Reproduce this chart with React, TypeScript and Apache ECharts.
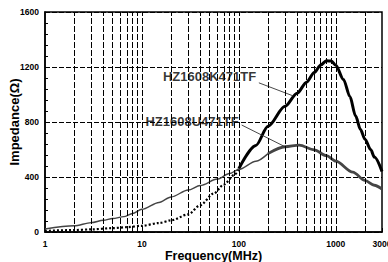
import React, { useEffect, useRef } from "react";
import * as echarts from "echarts";

// Frequencies (MHz) and impedance (Ω)
const kLowFreq = [1, 2, 3, 5, 7, 10, 15, 20, 30, 40, 55, 70, 90, 100];
const kLowVal = [8, 14, 19, 28, 35, 45, 65, 85, 128, 195, 280, 345, 415, 460];
const kHighFreq = [100, 150, 200, 300, 400, 500, 600, 700, 800, 900, 1000, 1200, 1400, 1600, 1800, 2000, 2300, 2500, 3000];
const kHighVal = [460, 630, 770, 915, 1010, 1090, 1160, 1215, 1245, 1243, 1212, 1110, 985, 845, 745, 675, 598, 545, 440];
const uLowFreq = [1, 2, 3, 4, 5, 6.5, 8, 10, 15, 20, 30, 40, 60, 80, 100, 150, 200];
const uLowVal = [22, 45, 68, 85, 98, 112, 135, 165, 215, 255, 305, 338, 385, 425, 455, 515, 570];
const uHighFreq = [200, 300, 420, 600, 800, 1000, 1500, 2000, 2500, 3000];
const uHighVal = [570, 620, 632, 598, 555, 515, 435, 375, 340, 312];

const gridFreqs = [2, 3, 4, 5, 6, 7, 8, 9, 10, 20, 30, 40, 50, 60, 70, 80, 90, 100, 200, 300, 400, 500, 600, 700, 800, 900, 1000, 2000];
const yTicks = [0, 400, 800, 1200, 1600];

const kName = "HZ1608K471TF";
const uName = "HZ1608U471TF";
const kLabelAt = [49.8, 1129];
const uLabelAt = [32.9, 807];
const kLeader = [[161, 1085], [363, 990]];
const uLeader = [[107, 778], [300, 620]];

const FONT = "'Liberation Sans', Arial, sans-serif";

const zip = (xs: number[], ys: number[]) => xs.map((x, i) => [x, ys[i]]);

export default function App() {
  const ref = useRef<HTMLDivElement>(null);
  useEffect(() => {
    document.body.style.margin = "0";
    const chart = echarts.init(ref.current!, null, { renderer: "svg" });
    const curve = { type: "line", smooth: 0.3, smoothMonotone: "x", showSymbol: false, silent: true };
    chart.setOption({
      animation: false,
      backgroundColor: "#fff",
      grid: {
        left: 45, top: 12, right: 6, bottom: 30,
        containLabel: false, outerBoundsMode: "none",
        show: true, borderColor: "#000", borderWidth: 1.5, backgroundColor: "transparent",
      },
      xAxis: {
        type: "log",
        logBase: 10,
        min: 1,
        max: 3000,
        name: "Frequency(MHz)",
        nameLocation: "middle",
        nameGap: 17,
        nameMoveOverlap: false,
        nameTextStyle: { fontFamily: FONT, fontWeight: "bold", fontSize: 12.5, color: "#000" },
        axisLine: { show: true, lineStyle: { color: "#000", width: 1.5 } },
        axisTick: { show: true, inside: true, length: 4, lineStyle: { color: "#000" } },
        splitLine: { show: false },
        axisLabel: {
          fontFamily: FONT,
          fontWeight: "bold",
          fontSize: 8.5,
          color: "#000",
          margin: 7,
          formatter: (v: number) => String(Math.round(v)),
        },
      },
      yAxis: {
        type: "value",
        min: yTicks[0],
        max: yTicks[yTicks.length - 1],
        interval: 400,
        name: "Impedance(Ω)",
        nameLocation: "middle",
        nameRotate: 90,
        nameGap: 24,
        nameMoveOverlap: false,
        nameTextStyle: { fontFamily: FONT, fontWeight: "bold", fontSize: 13, color: "#000" },
        axisLine: { show: true, lineStyle: { color: "#000", width: 1.5 } },
        axisTick: { show: true, inside: true, length: 5, lineStyle: { color: "#000" } },
        minorTick: { show: true, splitNumber: 5, length: 3, lineStyle: { color: "#000" } },
        splitLine: { show: true, lineStyle: { color: "#000", width: 1, type: [5, 2] } },
        axisLabel: {
          fontFamily: FONT, fontWeight: "bold", fontSize: 8.5, color: "#000", margin: 6,
          formatter: (v: number) => String(Math.round(v)),
        },
      },
      series: [
        {
          type: "line",
          data: [],
          silent: true,
          markLine: {
            silent: true,
            symbol: "none",
            label: { show: false },
            lineStyle: { color: "#000", width: 1, type: [6, 2] },
            data: gridFreqs.map((f) => ({ xAxis: f })),
          },
        },
        { ...curve, name: kName + " low", data: zip(kLowFreq, kLowVal), lineStyle: { color: "#000", width: 2.2, type: [2, 2] } },
        { ...curve, name: kName, data: zip(kHighFreq, kHighVal), lineStyle: { color: "#000", width: 3 } },
        { ...curve, name: uName + " low", data: zip(uLowFreq, uLowVal), lineStyle: { color: "#444", width: 1.4 } },
        { ...curve, name: uName, data: zip(uHighFreq, uHighVal), lineStyle: { color: "#454545", width: 2.8 } },
        { type: "line", data: kLeader, showSymbol: false, silent: true, lineStyle: { color: "#333", width: 0.9 } },
        { type: "line", data: uLeader, showSymbol: false, silent: true, lineStyle: { color: "#333", width: 0.9 } },
        {
          type: "scatter",
          symbolSize: 0.1,
          silent: true,
          itemStyle: { color: "transparent" },
          data: [
            { value: kLabelAt, name: kName },
            { value: uLabelAt, name: uName },
          ],
          label: {
            show: true,
            position: "inside",
            formatter: (p: any) => p.name,
            fontFamily: FONT,
            fontWeight: "bold",
            fontSize: 13,
            color: "#000",
          },
        },
      ],
    });
    return () => chart.dispose();
  }, []);
  return <div ref={ref} style={{ position: "absolute", left: 0, top: 0, width: 388, height: 262 }} />;
}
